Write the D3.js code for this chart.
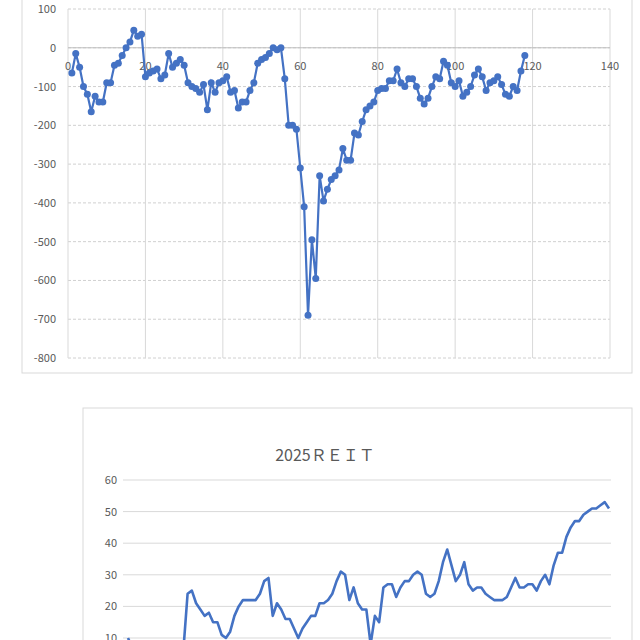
<!DOCTYPE html>
<html><head><meta charset="utf-8">
<script src="https://cdn.jsdelivr.net/npm/d3@7"></script>
<style>body{margin:0;background:#fff;font-family:"Noto Sans CJK JP","Liberation Sans",sans-serif}</style>
</head><body><svg id="c" width="640" height="640"></svg>
<script>
// top chart: scatter with lines
var topValues = [-65,-15,-50,-100,-120,-165,-125,-140,-140,-90,-90,-45,-40,-20,0,15,45,30,35,-75,
  -65,-60,-55,-80,-70,-15,-50,-40,-30,-45,-90,-100,-105,-115,-95,-160,-90,-115,-90,-85,
  -75,-115,-110,-155,-140,-140,-110,-90,-40,-30,-25,-15,0,-5,0,-80,-200,-200,-210,-310,
  -410,-690,-495,-595,-330,-395,-365,-340,-330,-315,-260,-290,-290,-220,-225,-190,-160,-150,-140,-110,
  -105,-105,-85,-85,-55,-90,-100,-80,-80,-100,-130,-145,-130,-100,-75,-80,-35,-45,-90,-100,
  -85,-125,-115,-100,-70,-55,-75,-110,-90,-85,-75,-95,-120,-125,-100,-110,-60,-20];
var topXTicks = [0,20,40,60,80,100,120,140];
var topYTicks = [100,0,-100,-200,-300,-400,-500,-600,-700,-800];

// bottom chart: 2025 REIT
var reitTitle = "2025ＲＥＩＴ";
var reitValues = [10,7,5,4,4,5,5,6,5,4,3,4,5,6,24,25,21,19,17,18,15,15,11,10,12,17,20,22,22,22,
  22,24,28,29,17,21,19,16,16,13,10,13,15,17,17,21,21,22,24,28,31,30,22,26,21,19,19,8,17,15,
  26,27,27,23,26,28,28,30,31,30,24,23,24,28,34,38,33,28,30,34,27,25,26,26,24,23,22,22,22,23,
  26,29,26,26,27,27,25,28,30,27,33,37,37,42,45,47,47,49,50,51,51,52,53,51];
var reitYTicks = [10,20,30,40,50,60];

var blue = "#4472C4";
var svg = d3.select("#c");

// ---- top chart
svg.append("rect").attr("x",22).attr("y",-5).attr("width",610).attr("height",378)
  .attr("fill","none").attr("stroke","#d9d9d9");
var x1 = d3.scaleLinear().domain([0,140]).range([68,610]);
var y1 = d3.scaleLinear().domain([-800,100]).range([358,9]);
var g1 = svg.append("g");
g1.selectAll(".hg").data(topYTicks).enter().append("line")
  .attr("x1",68).attr("x2",610).attr("y1",y1).attr("y2",y1)
  .attr("stroke","#d0d0d0").attr("stroke-dasharray","3,2");
g1.selectAll(".vg").data(topXTicks).enter().append("line")
  .attr("x1",x1).attr("x2",x1).attr("y1",9).attr("y2",358)
  .attr("stroke","#d9d9d9");
g1.append("line").attr("x1",68).attr("x2",610).attr("y1",y1(0)).attr("y2",y1(0)).attr("stroke","#bfbfbf");
g1.selectAll(".yl").data(topYTicks).enter().append("text")
  .attr("x",56).attr("y",function(d){return y1(d)+4;}).attr("text-anchor","end")
  .attr("font-size",11).attr("fill","#595959").text(function(d){return d;});
g1.selectAll(".xl").data(topXTicks).enter().append("text")
  .attr("x",x1).attr("y",y1(0)+22).attr("text-anchor","middle")
  .attr("font-size",11).attr("fill","#595959").text(function(d){return d;});
var pts = topValues.map(function(v,i){return [i+1,v];});
g1.append("path").datum(pts).attr("fill","none").attr("stroke",blue).attr("stroke-width",2.2)
  .attr("d",d3.line().x(function(d){return x1(d[0]);}).y(function(d){return y1(d[1]);}));
g1.selectAll("circle").data(pts).enter().append("circle")
  .attr("cx",function(d){return x1(d[0]);}).attr("cy",function(d){return y1(d[1]);})
  .attr("r",3.5).attr("fill",blue);

// ---- bottom chart
svg.append("rect").attr("x",83).attr("y",408).attr("width",549).attr("height",260)
  .attr("fill","none").attr("stroke","#d9d9d9");
var x2 = d3.scaleLinear().domain([0,reitValues.length-1]).range([128,609]);
var y2 = d3.scaleLinear().domain([10,60]).range([638,480]);
var g2 = svg.append("g");
g2.selectAll(".hg").data(reitYTicks).enter().append("line")
  .attr("x1",123).attr("x2",611).attr("y1",y2).attr("y2",y2)
  .attr("stroke","#d9d9d9");
g2.selectAll(".yl").data(reitYTicks).enter().append("text")
  .attr("x",117).attr("y",function(d){return y2(d)+4;}).attr("text-anchor","end")
  .attr("font-size",11).attr("fill","#595959").text(function(d){return d;});
g2.append("text").attr("x",325).attr("y",461).attr("text-anchor","middle")
  .attr("font-size",16).attr("fill","#595959").text(reitTitle);
g2.append("path").datum(reitValues).attr("fill","none").attr("stroke",blue).attr("stroke-width",2.6)
  .attr("stroke-linejoin","round")
  .attr("d",d3.line().x(function(d,i){return x2(i);}).y(function(d){return y2(d);}));
</script></body></html>
